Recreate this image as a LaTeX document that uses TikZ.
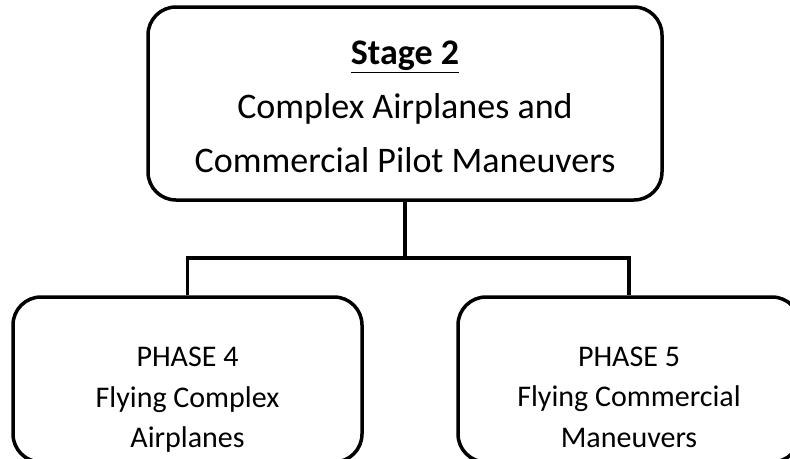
\documentclass[tikz,border=0pt]{standalone}
\usepackage{fontspec}
\setmainfont{Carlito}
\begin{document}
\begin{tikzpicture}[x=1pt,y=-1pt]
        \useasboundingbox (0,0) rectangle (790,458);

        \begin{scope}[every node/.style={draw,line width=3.5pt,rounded corners=28pt}]
          \node[minimum width=514pt,minimum height=193pt] (stage) at (405,103.5) {};
          \node[minimum width=349pt,minimum height=165pt] (ph4)   at (187.5,379.5) {};
          \node[minimum width=342pt,minimum height=165pt] (ph5)   at (629,379.5) {};
        \end{scope}

        \begin{scope}[every node/.style={align=center,inner sep=0pt}]
          \node[font=\fontsize{36}{54}\selectfont] (stage-t) at (405,107)
            {\underline{\textbf{Stage 2}}\\Complex Airplanes and\\Commercial Pilot Maneuvers};
          \node[font=\fontsize{30}{40.5}\selectfont] (ph4-t) at (187.5,400)
            {PHASE 4\\Flying Complex\\Airplanes};
          \node[font=\fontsize{30}{40.5}\selectfont] (ph5-t) at (629,397)
            {PHASE 5\\Flying Commercial\\Maneuvers};
        \end{scope}

        \coordinate (fork) at (405,258);

        \begin{scope}[line width=3.5pt]
          \draw (stage.south) -- (fork);
          \draw (ph4.north) |- (fork) -| (ph5.north);
        \end{scope}

      \end{tikzpicture}
\end{document}
